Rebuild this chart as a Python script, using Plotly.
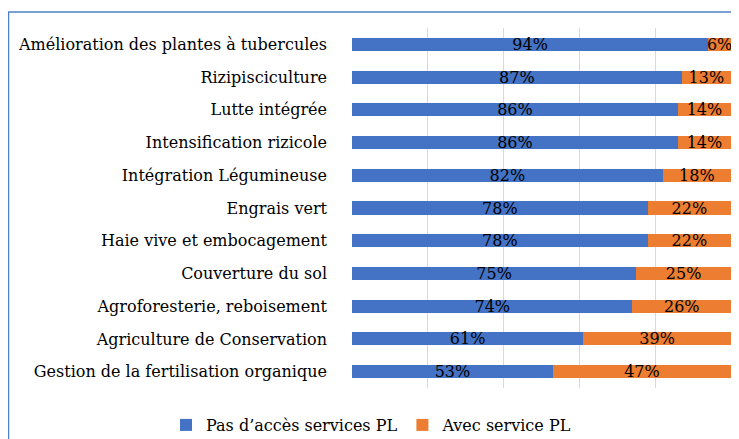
import plotly.graph_objects as go

categories = [
    "Amélioration des plantes à tubercules",
    "Rizipisciculture",
    "Lutte intégrée",
    "Intensification rizicole",
    "Intégration Légumineuse",
    "Engrais vert",
    "Haie vive et embocagement",
    "Couverture du sol",
    "Agroforesterie, reboisement",
    "Agriculture de Conservation",
    "Gestion de la fertilisation organique",
]
sans_acces = [94, 87, 86, 86, 82, 78, 78, 75, 74, 61, 53]
avec_service = [6, 13, 14, 14, 18, 22, 22, 25, 26, 39, 47]
series_names = ["Pas d’accès services PL", "Avec service PL"]
colors = ["#4472C4", "#ED7D31"]

serif = "DejaVu Serif"
W, H = 731, 431
L, R, T, B = 344, 8, 20, 51
pw, ph = W - L - R, H - T - B

fig = go.Figure()
for name, vals, col in zip(series_names, [sans_acces, avec_service], colors):
    fig.add_trace(go.Bar(
        y=categories, x=vals, name=name, orientation="h",
        marker=dict(color=col, line=dict(width=0)),
        text=[f"{v}%" for v in vals], textposition="inside",
        insidetextanchor="middle", constraintext="none",
        textfont=dict(family=serif, size=16, color="#000000"),
        cliponaxis=False,
    ))

fig.update_layout(
    barmode="stack", bargap=0.6,
    width=W, height=H,
    margin=dict(l=L, r=R, t=T, b=B, autoexpand=False),
    paper_bgcolor="white", plot_bgcolor="white",
    font=dict(family=serif, size=16, color="#000000"),
    showlegend=True,
    legend=dict(orientation="h", x=(158 - L) / pw, xanchor="left",
                y=(T + ph - 417) / ph, yanchor="middle",
                font=dict(family=serif, size=16), traceorder="normal"),
    xaxis=dict(range=[0, 100], showticklabels=False, showgrid=True,
               gridcolor="#D9D9D9", gridwidth=1, dtick=20, zeroline=False,
               showline=False, fixedrange=True),
    yaxis=dict(autorange="reversed", showgrid=False, showline=False,
               ticks="", ticklabelstandoff=24, fixedrange=True),
    shapes=[
        dict(type="line", xref="paper", yref="paper", x0=-L / pw, x1=(W - L) / pw,
             y0=1 + (T - 4) / ph, y1=1 + (T - 4) / ph,
             line=dict(color="#4F81C8", width=1.5)),
        dict(type="line", xref="paper", yref="paper", x0=-L / pw + 0.5 / pw,
             x1=-L / pw + 0.5 / pw,
             y0=1 + (T - 4) / ph, y1=-(B + 5) / ph,
             line=dict(color="#4F81C8", width=1.5)),
    ],
)

fig.write_html("out.html")
